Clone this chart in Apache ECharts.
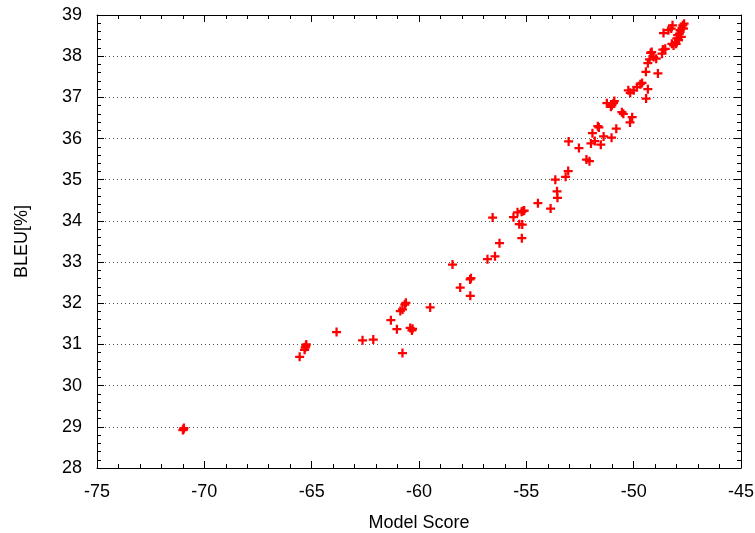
<!DOCTYPE html>
<html>
<head>
<meta charset="utf-8" />
<title>bleu vs model score</title>
<script src="https://cdn.jsdelivr.net/npm/echarts@6/dist/echarts.min.js"></script>
<style>
  html, body { margin: 0; padding: 0; background: #fff; }
  #main { width: 755px; height: 533px; }
</style>
</head>
<body>
<div id="main"></div>
<script>
// model score (x) and BLEU (y)
var modelScore = [
  -70.97, -70.95, -71.00, -65.56, -65.30, -65.27, -65.33, -65.25, -63.84, -62.63,
  -62.13, -61.31, -61.03, -60.77, -60.87, -60.77, -60.61, -60.66, -60.41, -60.33,
  -60.30, -59.48, -58.44, -58.08, -57.61, -57.58, -57.62, -56.81, -56.46, -56.25,
  -56.57, -55.60, -55.41, -55.16, -55.22, -55.10, -55.33, -55.19, -55.21, -54.46,
  -53.87, -53.55, -53.57, -53.65, -53.17, -53.05, -53.03, -52.55, -52.20, -52.06,
  -51.92, -51.99, -51.81, -51.53, -51.67, -51.62, -51.40, -51.03, -50.81, -50.17,
  -50.07, -50.55, -50.48, -51.25, -51.01, -50.94, -50.90, -51.06, -50.25, -50.16,
  -50.00, -49.85, -49.69, -49.61, -49.34, -49.42, -49.43, -49.34, -49.26, -49.21,
  -49.16, -48.87, -49.07, -48.95, -48.68, -48.64, -48.53, -48.61, -48.38, -48.25,
  -48.19, -48.22, -48.14, -48.06, -47.99, -47.95, -47.87, -47.84, -47.75, -47.71,
  -47.65, -47.91, -48.02, -47.78, -47.68
];
var bleu = [
  28.94, 28.97, 28.92, 30.70, 30.92, 30.96, 30.87, 31.00, 31.30, 31.10,
  31.12, 31.59, 31.37, 30.79, 31.81, 31.85, 32.01, 31.97, 31.40, 31.34,
  31.38, 31.90, 32.94, 32.38, 32.18, 32.61, 32.58, 33.07, 33.14, 33.46,
  34.08, 34.09, 34.21, 34.24, 34.22, 34.25, 33.92, 33.91, 33.58, 34.43,
  34.30, 34.56, 34.72, 35.00, 35.07, 35.21, 35.93, 35.77, 35.49, 35.45,
  36.13, 35.88, 35.94, 35.85, 36.30, 36.27, 36.05, 36.02, 36.24, 36.39,
  36.52, 36.64, 36.60, 36.86, 36.81, 36.86, 36.91, 36.77, 37.17, 37.11,
  37.17, 37.25, 37.32, 37.35, 37.20, 36.97, 37.62, 37.83, 37.92, 38.08,
  38.10, 37.58, 37.98, 37.94, 38.06, 38.16, 38.18, 38.56, 38.63, 38.67,
  38.75, 38.30, 38.26, 38.35, 38.43, 38.51, 38.55, 38.63, 38.69, 38.75,
  38.79, 38.39, 38.30, 38.47, 38.67
];

var xRange = [-75, -45];
var yRange = [28, 39];

var points = [];
for (var i = 0; i < modelScore.length; i++) {
  points.push([modelScore[i], bleu[i]]);
}

var font = 'Liberation Sans, Arial, sans-serif';
var black = '#000';

var myChart = echarts.init(document.getElementById('main'), null, { renderer: 'canvas' });

var tickCommon = {
  axisLine: { show: true, onZero: false, lineStyle: { color: black, width: 1 } },
  axisTick: { show: true, inside: true, length: 7, lineStyle: { color: black } },
  minorTick: { show: true, splitNumber: 5, length: 4, lineStyle: { color: black } }
};

myChart.setOption({
  animation: false,
  backgroundColor: '#fff',
  grid: { left: 97, right: 14, top: 15, bottom: 65, containLabel: false, outerBoundsMode: 'none' },
  xAxis: [
    Object.assign({
      type: 'value', min: xRange[0], max: xRange[1], interval: 5,
      position: 'bottom',
      name: 'Model Score', nameLocation: 'middle', nameGap: 46,
      nameTextStyle: { fontFamily: font, fontSize: 18, color: black },
      axisLabel: { fontFamily: font, fontSize: 18, color: black, margin: 15 },
      splitLine: { show: false }
    }, tickCommon),
    Object.assign({
      type: 'value', min: xRange[0], max: xRange[1], interval: 5,
      position: 'top',
      axisLabel: { show: false },
      splitLine: { show: false }
    }, tickCommon)
  ],
  yAxis: [
    Object.assign({
      type: 'value', min: yRange[0], max: yRange[1], interval: 1,
      position: 'left',
      name: 'BLEU[%]', nameLocation: 'middle', nameGap: 66, nameRotate: 90,
      nameTextStyle: { fontFamily: font, fontSize: 18, color: black },
      axisLabel: { fontFamily: font, fontSize: 18, color: black, margin: 15 },
      splitLine: { show: true, lineStyle: { color: '#555', type: [1, 3], width: 1 } }
    }, tickCommon),
    Object.assign({
      type: 'value', min: yRange[0], max: yRange[1], interval: 1,
      position: 'right',
      axisLabel: { show: false },
      splitLine: { show: false }
    }, tickCommon)
  ],
  series: [{
    type: 'scatter',
    xAxisIndex: 0,
    yAxisIndex: 0,
    data: points,
    symbol: 'path://M3,0H5V3H8V5H5V8H3V5H0V3H3Z',
    symbolSize: 9,
    itemStyle: { color: '#ff0000', opacity: 1 }
  }]
});
</script>
</body>
</html>
